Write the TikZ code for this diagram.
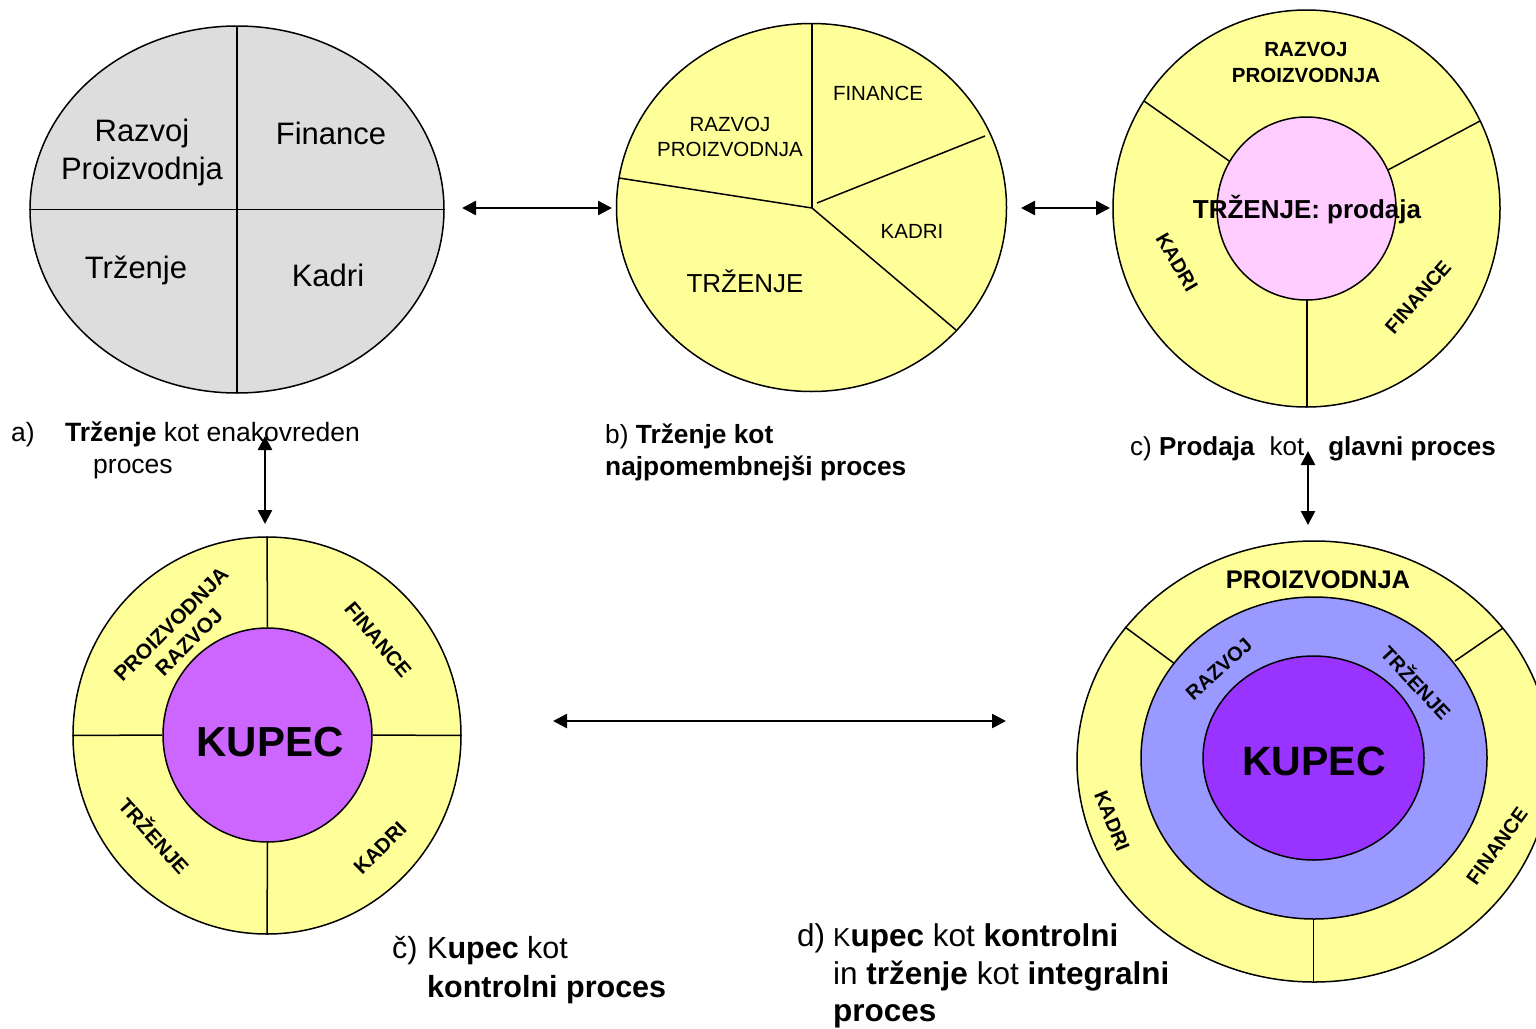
\documentclass[tikz,border=0pt]{standalone}
\usepackage{fontspec}
\setmainfont{Liberation Sans}
\usetikzlibrary{shapes.geometric,arrows.meta}
\definecolor{ylw}{HTML}{FFFF99}
\definecolor{gry}{HTML}{DDDDDD}
\definecolor{pnk}{HTML}{FFCCFF}
\definecolor{vio}{HTML}{CC66FF}
\definecolor{blu}{HTML}{9999FF}
\definecolor{pur}{HTML}{9933FF}
\tikzset{
  shp/.style={ellipse, draw=black, line width=1.5pt, inner sep=0pt},
  sep/.style={draw=black, line width=1.5pt},
  conn/.style={line width=2.5pt, {Triangle[length=14pt,width=14pt]}-{Triangle[length=14pt,width=14pt]}},
  lbl/.style={inner sep=0pt, align=center},
  captxt/.style={anchor=base west, inner sep=0pt},
}
\begin{document}
\begin{tikzpicture}[x=1pt,y=-1pt]
\useasboundingbox (0,0) rectangle (1536,1028);
\clip (0,0) rectangle (1536,1028);

% ---------- a) ----------
\node[shp, fill=gry, minimum width=414pt, minimum height=367pt] (A) at (237,209.5) {};
\draw[sep] (237,26) -- (237,393);
\draw[sep] (A.west) -- (A.east);
\node[lbl, font=\fontsize{31}{38}\selectfont] (a1) at (142,152) {Razvoj\\Proizvodnja};
\node[lbl, font=\fontsize{31}{38}\selectfont] (a2) at (331,133) {Finance};
\node[lbl, font=\fontsize{31}{38}\selectfont] (a3) at (136,270) {Trženje};
\node[lbl, font=\fontsize{31}{38}\selectfont] (a4) at (328,275) {Kadri};

% ---------- b) ----------
\node[shp, fill=ylw, minimum width=390pt, minimum height=368pt] (B) at (811.5,207.5) {};
\coordinate (bc) at (812,208);
\draw[sep] (bc) -- (812,24);
\draw[sep] (bc) -- (619,178);
\draw[sep] (bc) -- (956,330);
\draw[sep] (817,203) -- (985,136);
\node[lbl, font=\fontsize{20.5}{25}\selectfont] (b1) at (730,137) {RAZVOJ\\PROIZVODNJA};
\node[lbl, font=\fontsize{20.5}{25}\selectfont] (b2) at (878,93) {FINANCE};
\node[lbl, font=\fontsize{20.5}{25}\selectfont] (b3) at (912,231) {KADRI};
\node[lbl, font=\fontsize{26}{30}\selectfont] (b4) at (745,281) {TRŽENJE};

% ---------- c) ----------
\node[shp, fill=ylw, minimum width=387pt, minimum height=397pt] (C) at (1306.5,208.5) {};
\draw[sep] (1144,101) -- (1232,163);
\draw[sep] (1480,121) -- (1386,171);
\draw[sep] (1307,300) -- (1307,407);
\node[shp, fill=pnk, minimum width=179pt, minimum height=183pt] (Ci) at (1306.5,208.5) {};
\node[lbl, font=\bfseries\fontsize{20.5}{26}\selectfont] (c1) at (1306,62) {RAZVOJ\\PROIZVODNJA};
\node[lbl, font=\bfseries\fontsize{26}{30}\selectfont] (c2) at (1307,210) {TRŽENJE: prodaja};
\node[lbl, font=\bfseries\fontsize{20}{24}\selectfont, rotate=-60] (c3) at (1177,262) {KADRI};
\node[lbl, font=\bfseries\fontsize{20}{24}\selectfont, rotate=49] (c4) at (1418,297) {FINANCE};

% ---------- č) ----------
\node[shp, fill=ylw, minimum width=388pt, minimum height=397pt] (D) at (267,735.5) {};
\node[shp, fill=vio, minimum width=209pt, minimum height=214pt] (Di) at (267.5,735) {};
\draw[sep] (D.north) -- (Di.north);
\draw[sep] (D.south) -- (Di.south);
\draw[sep] (D.west) -- (Di.west);
\draw[sep] (D.east) -- (Di.east);
\node[lbl, font=\bfseries\fontsize{42}{48}\selectfont] (d0) at (270,742) {KUPEC};
\node[lbl, font=\bfseries\fontsize{21}{25}\selectfont, rotate=45] (d1) at (180,633) {PROIZVODNJA\\RAZVOJ};
\node[lbl, font=\bfseries\fontsize{20.5}{24}\selectfont, rotate=-50] (d2) at (378,640) {FINANCE};
\node[lbl, font=\bfseries\fontsize{20.5}{24}\selectfont, rotate=-48] (d3) at (155,835) {TRŽENJE};
\node[lbl, font=\bfseries\fontsize{20.5}{24}\selectfont, rotate=45] (d4) at (380,848) {KADRI};

% ---------- d) ----------
\node[shp, fill=ylw, minimum width=474pt, minimum height=441pt] (E) at (1314,761.5) {};
\draw[sep] (1125,627) -- (1175,664);
\draw[sep] (1503,628) -- (1455,661);
\draw[sep] (1313.5,915) -- (1313.5,982);
\node[shp, fill=blu, minimum width=346pt, minimum height=322pt] (Em) at (1314,758) {};
\node[shp, fill=pur, minimum width=221pt, minimum height=204pt] (Ei) at (1313.5,758) {};
\node[lbl, font=\bfseries\fontsize{41}{48}\selectfont] (e0) at (1314,761) {KUPEC};
\node[lbl, font=\bfseries\fontsize{25.5}{30}\selectfont] (e1) at (1318,580) {PROIZVODNJA};
\node[lbl, font=\bfseries\fontsize{20}{24}\selectfont, rotate=42] (e2) at (1219,669) {RAZVOJ};
\node[lbl, font=\bfseries\fontsize{20}{24}\selectfont, rotate=-47] (e3) at (1417,682) {TRŽENJE};
\node[lbl, font=\bfseries\fontsize{20}{24}\selectfont, rotate=-68] (e4) at (1112,821) {KADRI};
\node[lbl, font=\bfseries\fontsize{20}{24}\selectfont, rotate=54] (e5) at (1497,846) {FINANCE};

% ---------- captions ----------
\node[captxt, font=\fontsize{26.5}{32}\selectfont] (capa1) at (11,441) {a)};
\node[captxt, font=\fontsize{26.5}{32}\selectfont] (capa2) at (65,441) {\textbf{Trženje} kot enakovreden};
\node[captxt, font=\fontsize{26.5}{32}\selectfont] (capa3) at (93,473) {proces};
\node[captxt, font=\fontsize{26.3}{32}\selectfont] (capb1) at (605,443) {b) \textbf{Trženje kot}};
\node[captxt, font=\fontsize{26.3}{32}\selectfont] (capb2) at (605,475) {\textbf{najpomembnejši proces}};
\node[captxt, font=\fontsize{26}{32}\selectfont] (capc) at (1130,455)
  {c) \textbf{Prodaja}\hspace{15pt}kot\hspace{24pt}\textbf{glavni proces}};
\node[captxt, font=\fontsize{30.5}{39}\selectfont] (capd1) at (392,958) {č)};
\node[captxt, font=\fontsize{30.5}{39}\selectfont] (capd2) at (427,958) {K\textbf{upec} kot};
\node[captxt, font=\fontsize{30.5}{39}\selectfont] (capd3) at (427,997) {\textbf{kontrolni proces}};
\node[captxt, font=\fontsize{31.5}{37}\selectfont] (cape1) at (797,946) {d)};
\node[captxt, font=\fontsize{31.5}{37}\selectfont] (cape2) at (833,946) {{\fontsize{26}{30}\selectfont K}\textbf{upec} kot \textbf{kontrolni}};
\node[captxt, font=\fontsize{31.5}{37}\selectfont] (cape3) at (833,984) {in \textbf{trženje} kot \textbf{integralni}};
\node[captxt, font=\fontsize{31.5}{37}\selectfont] (cape4) at (833,1021) {\textbf{proces}};

% ---------- connectors ----------
\coordinate (ab1) at (462,208);
\coordinate (ab2) at (612,208);
\coordinate (bc1) at (1021,208);
\coordinate (bc2) at (1110,208);
\coordinate (ad1) at (265,436);
\coordinate (ad2) at (265,524);
\coordinate (ce1) at (1308,451);
\coordinate (ce2) at (1308,525);
\coordinate (de1) at (553,721);
\coordinate (de2) at (1006,721);
\draw[conn] (ab1) -- (ab2);
\draw[conn] (bc1) -- (bc2);
\draw[conn] (ad1) -- (ad2);
\draw[conn] (ce1) -- (ce2);
\draw[conn] (de1) -- (de2);
\end{tikzpicture}
\end{document}
